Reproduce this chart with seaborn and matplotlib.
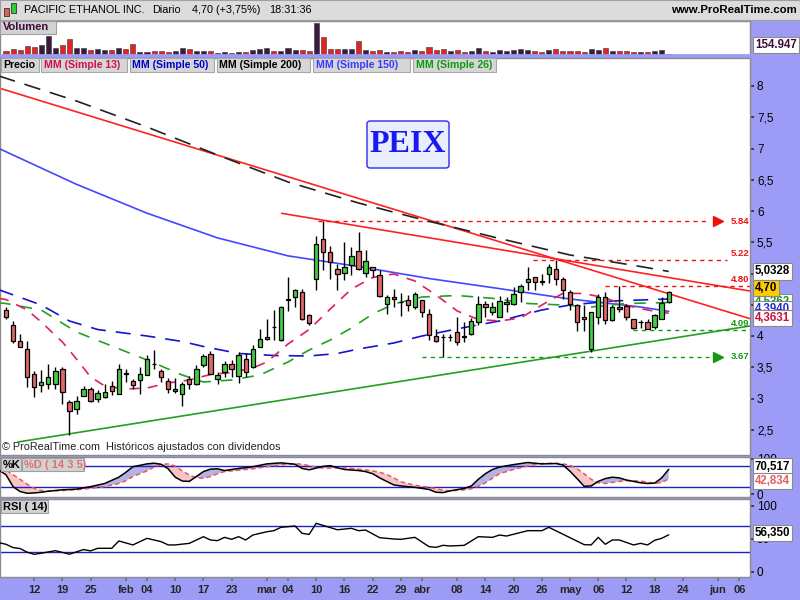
import numpy as np
import matplotlib
matplotlib.use("Agg")
import matplotlib.pyplot as plt
import matplotlib.transforms as mtrans
from matplotlib.patches import Rectangle, FancyBboxPatch
import seaborn as sns

sns.set_theme(style="white")
plt.rcParams['font.family'] = ['Liberation Sans', 'DejaVu Sans']

# ---------------- data ----------------
opens = [4.42, 4.17, 3.92, 3.80, 3.39, 3.21, 3.24, 3.23, 3.48, 2.94,
         2.83, 3.04, 3.15, 3.00, 3.03, 3.20, 3.08, 3.41, 3.28, 3.30,
         3.37, 3.56, 3.44, 3.28, 3.12, 3.08, 3.32, 3.24, 3.53, 3.71,
         3.32, 3.43, 3.56, 3.36, 3.63, 3.50, 3.83, 3.96, 4.15, 3.93,
         4.58, 4.63, 4.70, 4.33, 4.91, 5.55, 5.34, 5.07, 5.01, 5.14,
         5.36, 5.01, 5.10, 4.98, 4.52, 4.62, 4.55, 4.58, 4.47, 4.58,
         4.35, 4.00, 3.99, 3.99, 4.06, 4.00, 4.03, 4.22, 4.51, 4.39,
         4.31, 4.51, 4.51, 4.71, 4.86, 4.94, 4.88, 5.00, 5.07, 4.92,
         4.71, 4.50, 4.31, 3.80, 4.31, 4.63, 4.25, 4.47, 4.48, 4.27,
         4.22, 4.22, 4.14, 4.28, 4.55]
highs = [4.46, 4.24, 4.04, 3.92, 3.44, 3.46, 3.55, 3.50, 3.50, 2.97,
         3.04, 3.20, 3.18, 3.13, 3.23, 3.28, 3.55, 3.48, 3.31, 3.50,
         3.69, 3.77, 3.48, 3.33, 3.33, 3.26, 3.36, 3.53, 3.71, 3.76,
         3.42, 3.60, 3.61, 3.74, 3.73, 3.85, 4.12, 4.27, 4.42, 4.48,
         4.95, 4.75, 4.75, 4.35, 5.60, 5.84, 5.44, 5.16, 5.51, 5.43,
         5.66, 5.38, 5.11, 5.05, 4.65, 4.75, 4.69, 4.65, 4.70, 4.58,
         4.44, 4.11, 4.04, 4.03, 4.31, 4.23, 4.29, 4.64, 4.56, 4.54,
         4.64, 4.63, 4.79, 4.83, 5.11, 4.95, 5.00, 5.15, 5.22, 4.95,
         4.73, 4.52, 4.50, 4.38, 4.68, 4.70, 4.49, 4.80, 4.52, 4.28,
         4.25, 4.28, 4.36, 4.63, 4.725]
lows = [4.28, 3.89, 3.82, 3.18, 3.03, 3.11, 3.15, 3.15, 2.92, 2.42,
        2.75, 3.04, 2.94, 2.94, 3.01, 3.05, 3.08, 3.26, 3.15, 3.08,
        3.37, 3.48, 3.26, 3.09, 3.09, 2.88, 3.15, 3.22, 3.51, 3.39,
        3.24, 3.35, 3.35, 3.25, 3.35, 3.49, 3.83, 3.94, 3.93, 3.92,
        4.40, 4.47, 4.26, 4.18, 4.73, 5.06, 4.91, 4.73, 4.90, 4.98,
        5.06, 4.95, 4.95, 4.62, 4.36, 4.46, 4.32, 4.40, 4.43, 4.31,
        3.94, 3.91, 3.67, 3.92, 3.85, 3.91, 4.02, 4.18, 4.31, 4.33,
        4.30, 4.39, 4.50, 4.54, 4.74, 4.74, 4.82, 4.85, 4.82, 4.60,
        4.42, 4.08, 4.08, 3.75, 4.19, 4.19, 4.24, 4.39, 4.25, 4.11,
        4.13, 4.11, 4.11, 4.27, 4.53]
closes = [4.30, 3.92, 3.82, 3.35, 3.19, 3.26, 3.34, 3.44, 3.11, 2.80,
          2.96, 3.15, 2.96, 3.09, 3.10, 3.12, 3.48, 3.40, 3.21, 3.40,
          3.64, 3.55, 3.35, 3.15, 3.15, 3.24, 3.23, 3.48, 3.68, 3.39,
          3.38, 3.56, 3.47, 3.69, 3.42, 3.80, 3.95, 3.99, 4.14, 4.46,
          4.59, 4.73, 4.27, 4.21, 5.47, 5.34, 5.19, 5.00, 5.10, 5.28,
          5.07, 5.20, 5.06, 4.64, 4.62, 4.59, 4.54, 4.50, 4.68, 4.39,
          4.01, 3.92, 3.98, 3.99, 3.91, 3.99, 4.24, 4.51, 4.46, 4.46,
          4.56, 4.55, 4.67, 4.80, 4.91, 4.87, 4.87, 5.10, 4.91, 4.73,
          4.52, 4.22, 4.27, 4.38, 4.63, 4.26, 4.47, 4.43, 4.30, 4.13,
          4.23, 4.12, 4.34, 4.53, 4.70]
volumes_k = [620, 930, 780, 1400, 1240, 1550, 2950, 1090, 1560, 2480,
             1080, 1100, 770, 940, 790, 760, 1070, 920, 1710, 470,
             480, 610, 630, 460, 620, 1090, 950, 640, 610, 600,
             320, 470, 330, 480, 460, 790, 930, 1110, 630, 620,
             1080, 770, 790, 640, 4980, 2800, 940, 920, 950, 930,
             2170, 780, 620, 770, 470, 480, 640, 470, 790, 610,
             1250, 770, 940, 620, 780, 460, 630, 1090, 610, 480,
             790, 620, 770, 930, 780, 630, 470, 780, 940, 620,
             630, 610, 480, 940, 790, 1100, 620, 640, 610, 470,
             490, 470, 630, 800, 154.947]

ma200_idx = [-1, 10, 20, 30, 40, 50, 60, 70, 80, 90, 94]
ma200_val = [8.16, 7.76, 7.344, 6.896, 6.464, 6.128, 5.835, 5.56, 5.296, 5.112, 5.0328]
ma150_idx = [-1, 10, 20, 30, 40, 50, 60, 70, 80, 90, 94]
ma150_val = [7.00, 6.427, 5.965, 5.57, 5.282, 5.112, 4.92, 4.758, 4.592, 4.464, 4.394]
ma50_idx = [-1, 5, 9, 13, 20, 25, 28, 33, 38, 43, 47, 50, 55, 59, 65, 70, 76, 80, 86, 94]
ma50_val = [4.74, 4.496, 4.24, 4.104, 4.00, 3.912, 3.832, 3.72, 3.688, 3.68, 3.72,
            3.792, 3.888, 4.00, 4.136, 4.24, 4.416, 4.496, 4.56, 4.592]
ma13_idx = [-1, 0, 3, 5, 8, 10, 12, 14, 17, 20, 23, 26, 29, 32, 35, 37, 40, 43, 46,
            49, 52, 55, 58, 61, 64, 67, 70, 73, 76, 79, 82, 85, 88, 91, 94]
ma13_val = [4.60, 4.584, 4.416, 4.224, 3.904, 3.632, 3.344, 3.20, 3.152, 3.168, 3.248,
            3.296, 3.384, 3.416, 3.488, 3.584, 3.872, 4.104, 4.432, 4.752, 4.936, 4.992,
            4.88, 4.656, 4.40, 4.264, 4.24, 4.288, 4.496, 4.683, 4.68, 4.608, 4.488,
            4.416, 4.3631]
ma26_idx = [-1, 0, 5, 10, 15, 20, 25, 28, 32, 36, 40, 43, 46, 49, 52, 55, 59, 64, 69,
            74, 79, 83, 88, 94]
ma26_val = [4.53, 4.52, 4.416, 4.064, 3.84, 3.616, 3.376, 3.264, 3.296, 3.376, 3.584,
            3.776, 3.936, 4.128, 4.352, 4.512, 4.624, 4.648, 4.603, 4.52, 4.496, 4.464,
            4.52, 4.5362]

stoch_idx = [-1, 0, 1, 2, 3, 4, 5, 6, 8, 10, 12, 14, 16, 17, 18, 20, 21, 22, 23, 24,
             25, 26, 27, 28, 29, 30, 31, 32, 33, 35, 37, 39, 41, 42, 43, 44, 45, 46,
             47, 48, 50, 51, 52, 53, 54, 55, 56, 58, 60, 61, 62, 63, 65, 66, 67, 68,
             69, 70, 72, 74, 76, 78, 79, 80, 81, 82, 83, 84, 85, 86, 87, 88, 89, 90,
             91, 92, 93, 94]
stoch_k = [68, 55, 21, 7, 2, 3, 5, 8, 12, 14, 21, 30, 48, 62, 78, 86, 88, 85, 72, 48,
           37, 36, 50, 64, 71, 72, 67, 70, 73, 78, 86, 89, 85, 73, 69, 74, 79, 81,
           75, 70, 67, 64, 58, 46, 36, 26, 23, 19, 13, 5, 4, 9, 16, 23, 42, 58,
           70, 77, 84, 90, 86, 87, 83, 65, 44, 22, 23, 36, 44, 48, 46, 40, 36, 32,
           30, 31, 46, 70.517]
stoch_d = [70, 68, 55, 42, 28, 16, 10, 8, 10, 12, 16, 21, 30, 38, 50, 66, 77, 84, 86, 80,
           66, 54, 46, 45, 50, 58, 64, 66, 68, 72, 78, 83, 87, 85, 81, 76, 74, 74,
           75, 75, 71, 69, 66, 62, 56, 46, 35, 25, 19, 15, 11, 9, 12, 15, 22, 32,
           45, 58, 70, 80, 87, 88, 86, 82, 72, 58, 42, 32, 30, 33, 36, 38, 38, 37,
           34, 30, 33, 42.834]

rsi_idx = [-1, 0, 1, 2, 3, 4, 5, 7, 9, 11, 12, 13, 15, 16, 18, 20, 22, 23, 24, 26, 28,
           29, 30, 31, 32, 33, 34, 35, 37, 38, 39, 41, 42, 43, 44, 45, 47, 49, 50, 51,
           53, 55, 56, 58, 60, 61, 62, 63, 65, 67, 69, 70, 71, 74, 76, 77, 80, 82, 83,
           84, 85, 86, 87, 89, 90, 91, 92, 93, 94]
rsi_val = [44.4, 42, 37, 35.5, 30, 26.8, 28.5, 32.3, 27, 34, 32, 35.9, 35.9, 47, 41, 51,
           46, 41, 41, 43.4, 53.5, 48.5, 47.5, 52.5, 49.5, 53.5, 48.5, 56, 61, 62.6,
           67.7, 69.7, 58.6, 57, 73.7, 70.5, 64, 66.2, 62.6, 63.6, 52, 50, 49.5, 52.5,
           38.4, 37.4, 40.4, 39.4, 40.4, 53.5, 52.5, 56, 54.5, 62.6, 62.6, 67.7, 52,
           41.5, 41, 52.5, 42, 48.5, 48.5, 41, 43.4, 41, 48, 51, 56.35]

tick_pos = [4, 8, 12, 17, 20, 24, 28, 32, 37, 40, 44, 48, 52, 56, 59, 64, 68, 72,
            76, 80, 84, 88, 92, 96, 101, 104]
tick_labels = ['12', '19', '25', 'feb', '04', '10', '17', '23', 'mar', '04', '10',
               '16', '22', '29', 'abr', '08', '14', '20', '26', 'may', '06', '12',
               '18', '24', 'jun', '06']

red_line1_x = [-0.85, 105.5]
red_line1_y = [7.963, 4.278]
red_line2_x = [39.1, 105.5]
red_line2_y = [5.963, 4.72]
green_line_x = [1.7, 105.5]
green_line_y = [2.304, 4.16]

level_vals = [5.84, 5.22, 4.80, 4.09, 3.67]
level_texts = ['5.84', '5.22', '4.80', '4.09', '3.67']
level_start = [44.3, 74.8, 85.0, 89.0, 59.0]
level_end = [99.7, 102.3, 105.6, 105.6, 99.7]
level_colors = ['#ee1111', '#ee1111', '#ee1111', '#119911', '#119911']
level_arrow = [True, False, False, False, True]

price_ticks = [2.5, 3.0, 3.5, 4.0, 4.5, 5.0, 5.5, 6.0, 6.5, 7.0, 7.5, 8.0]
price_tick_hidden = [4.5, 5.0]   # covered by the value boxes in the reference

# ---------------- layout ----------------
W, H = 800, 600
fig = plt.figure(figsize=(8, 6), dpi=100)
fig.patch.set_facecolor('#9c9cf6')

def ax_px(x0, y0, x1, y1):
    return fig.add_axes([x0 / W, 1 - y1 / H, (x1 - x0) / W, (y1 - y0) / H])

def frect(x0, y0, x1, y1, **kw):
    r = Rectangle((x0 / W, 1 - y1 / H), (x1 - x0) / W, (y1 - y0) / H,
                  transform=fig.transFigure, **kw)
    fig.add_artist(r)
    return r

def ftext(x, y, s, **kw):
    return fig.text(x / W, 1 - y / H, s, **kw)

XMIN, XMAX = -0.851, 105.53
n = len(closes)
xs = np.arange(n)
o = np.array(opens); c = np.array(closes); hi = np.array(highs); lo = np.array(lows)
up = c >= o

def style_axes(ax):
    ax.set_facecolor('white')
    for s in ax.spines.values():
        s.set_color('#8c8c8c')
        s.set_linewidth(1)
    ax.set_xlim(XMIN, XMAX)
    ax.tick_params(axis='x', bottom=False, labelbottom=False)
    ax.yaxis.tick_right()
    ax.tick_params(axis='y', right=True, left=False, direction='out', length=3,
                   color='#333333', labelsize=8.5, pad=2, labelcolor='black')
    ax.grid(False)

# title bar
frect(0, 0, 800, 20, facecolor='#dcdcdc', edgecolor='#a0a0a0', lw=0.8)
frect(4, 8, 9, 16, facecolor='#e06060', edgecolor='#333333', lw=0.6)
frect(11, 3, 16, 13, facecolor='#33cc33', edgecolor='#333333', lw=0.6)
ftext(24, 10, 'PACIFIC ETHANOL INC.', fontsize=7.8, va='center', color='black')
ftext(152, 10, 'Diario', fontsize=7.8, va='center', color='black')
ftext(192, 10, '4,70 (+3,75%)', fontsize=7.8, va='center', color='black')
ftext(269, 10, '18:31:36', fontsize=7.8, va='center', color='black')
ftext(797, 10, 'www.ProRealTime.com', fontsize=8.2, fontweight='bold', va='center',
      ha='right', color='black')

# ---------------- volume ----------------
ax_v = ax_px(0, 21, 750, 55)
style_axes(ax_v)
ax_v.set_ylim(0, 5270)
ax_v.set_yticks([])
vcols = ['#3c1a40' if u else '#e52222' for u in up]
vcols[-1] = '#222222'
ax_v.bar(xs, volumes_k, width=0.72, color=vcols, edgecolor='#333333', linewidth=0.4)
ax_v.spines['bottom'].set_color('#9c9cf6')
ax_v.spines['bottom'].set_linewidth(2)

# ---------------- price ----------------
ax_p = ax_px(0, 58, 750, 455)
style_axes(ax_p)
ax_p.set_ylim(2.096, 8.448)
ax_p.set_yticks(price_ticks)
ax_p.set_yticklabels(['' if v in price_tick_hidden else ('%g' % v).replace('.', ',')
                      for v in price_ticks])

# trend lines
ax_p.plot(red_line1_x, red_line1_y, color='#ff2222', lw=1.2, zorder=2)
ax_p.plot(red_line2_x, red_line2_y, color='#ff2222', lw=1.2, zorder=2)
ax_p.plot(green_line_x, green_line_y, color='#22a022', lw=1.2, zorder=2)

# moving averages
sns.lineplot(x=ma150_idx, y=ma150_val, ax=ax_p, color='#4646ff', linewidth=1.2, zorder=3)
sns.lineplot(x=ma200_idx, y=ma200_val, ax=ax_p, color='#222222', linewidth=1.2,
             linestyle=(0, (10, 6)), zorder=3)
sns.lineplot(x=ma50_idx, y=ma50_val, ax=ax_p, color='#1414d0', linewidth=1.2,
             linestyle=(0, (9, 6)), zorder=3)
sns.lineplot(x=ma26_idx, y=ma26_val, ax=ax_p, color='#22a022', linewidth=1.2,
             linestyle=(0, (7, 6)), zorder=3)
sns.lineplot(x=ma13_idx, y=ma13_val, ax=ax_p, color='#e0205a', linewidth=1.2,
             linestyle=(0, (6, 5)), zorder=3)

# horizontal levels
for v, t, x0, x1, col, arr in zip(level_vals, level_texts, level_start, level_end,
                                  level_colors, level_arrow):
    ax_p.plot([x0, x1], [v, v], color=col, lw=1.0, linestyle=(0, (3, 3)), zorder=2)
    if arr:
        ax_p.plot([101.0], [v], marker='>', markersize=7, color=col, zorder=4)
        ax_p.text(102.8, v, t, color=col, fontsize=6.8, fontweight='bold',
                  va='center', ha='left', zorder=5)
    else:
        ax_p.text(102.8, v + 0.03, t, color=col, fontsize=6.8, fontweight='bold',
                  va='bottom', ha='left', zorder=5)

# candles
ax_p.vlines(xs, lo, hi, color='black', lw=1.0, zorder=5)
bcol = ['#44cc44' if u else '#e06868' for u in up]
ax_p.bar(xs, c - o, bottom=o, width=0.62, color=bcol, edgecolor='black',
         linewidth=0.9, zorder=6)

# PEIX box
fig.add_artist(FancyBboxPatch((367 / W, 1 - 168 / H), 82 / W, 47 / H,
                              boxstyle='round,pad=0,rounding_size=0.004',
                              transform=fig.transFigure, facecolor='#e8eeff',
                              edgecolor='#2a2ae6', lw=1.0))
ftext(408, 145, 'PEIX', fontsize=23, fontweight='bold',
      family=['Liberation Serif', 'DejaVu Serif'], color='#1a1aee',
      ha='center', va='center')

# price panel label row
labs = [('Precio', 1, 39, 'black'), ('MM (Simple 13)', 41, 127, '#d0104a'),
        ('MM (Simple 50)', 130, 214, '#0000cc'), ('MM (Simple 200)', 217, 310, 'black'),
        ('MM (Simple 150)', 313, 410, '#3a3aff'), ('MM (Simple 26)', 413, 496, '#109910')]
for s, x0, x1, col in labs:
    frect(x0, 58, x1, 72, facecolor='#d6d6d6', edgecolor='#a8a8a8', lw=0.8)
    ftext(x0 + 2.5, 65.5, s, fontsize=7.6, fontweight='bold', color=col, va='center')

frect(0, 21, 56, 34, facecolor='#d2d2d2', edgecolor='#a0a0a0', lw=0.8)
ftext(3, 27.5, 'Volumen', fontsize=8, fontweight='bold', color='#3b0d3b', va='center')

ftext(2, 447, '\u00a9 ProRealTime.com  Hist\u00f3ricos ajustados con dividendos',
      fontsize=7.8, color='#222222', va='center')

# ---------------- stochastic ----------------
ax_s = ax_px(0, 457, 750, 497)
style_axes(ax_s)
ax_s.set_ylim(-8.57, 105.7)
ax_s.set_yticks([0, 100])
ax_s.set_yticklabels(['0', '100'])
k = np.array(stoch_k, dtype=float); d = np.array(stoch_d, dtype=float)
ax_s.fill_between(stoch_idx, k, d, where=k >= d, interpolate=True,
                  color='#b4b4e2', lw=0, zorder=1)
ax_s.fill_between(stoch_idx, k, d, where=k < d, interpolate=True,
                  color='#f6c6c6', lw=0, zorder=1)
ax_s.axhline(80, color='#2020c0', lw=1, zorder=2)
ax_s.axhline(20, color='#2020c0', lw=1, zorder=2)
ax_s.plot(stoch_idx, d, color='#e85a5a', lw=1.1, linestyle=(0, (3, 2)), zorder=3)
sns.lineplot(x=stoch_idx, y=stoch_k, ax=ax_s, color='black', linewidth=1.1, zorder=4)
ax_s.set_xlim(XMIN, XMAX)
frect(1, 458, 21, 471, facecolor='#d2d2d2', edgecolor='#a0a0a0', lw=0.8)
ftext(3, 464.5, '%K', fontsize=8, fontweight='bold', color='black', va='center')
frect(22, 458, 84, 471, facecolor='#d2d2d2', edgecolor='#a0a0a0', lw=0.8)
ftext(24, 464.5, '%D ( 14 3 5)', fontsize=8, fontweight='bold', color='#e07070',
      va='center')

# ---------------- RSI ----------------
ax_r = ax_px(0, 499, 750, 577)
style_axes(ax_r)
ax_r.set_ylim(-7.58, 110.6)
ax_r.set_yticks([0, 50, 100])
ax_r.set_yticklabels(['0', '50', '100'])
ax_r.axhline(70, color='#2020c0', lw=1, zorder=2)
ax_r.axhline(30, color='#2020c0', lw=1, zorder=2)
sns.lineplot(x=rsi_idx, y=rsi_val, ax=ax_r, color='black', linewidth=1.0, zorder=3)
ax_r.set_xlim(XMIN, XMAX)
ax_r.set_xticks(tick_pos)
ax_r.set_xticklabels(tick_labels)
ax_r.tick_params(axis='x', bottom=True, labelbottom=True, direction='out', length=3,
                 color='#707070', pad=3, labelsize=8)
for lab in ax_r.get_xticklabels():
    lab.set_fontweight('bold')
frect(1, 500, 48, 513, facecolor='#d2d2d2', edgecolor='#a0a0a0', lw=0.8)
ftext(3, 506.5, 'RSI ( 14)', fontsize=8, fontweight='bold', color='black', va='center')

for a in (ax_v, ax_p, ax_s, ax_r):
    a.set_xlabel('')
    a.set_ylabel('')

# ---------------- value boxes on the right axis ----------------
def vbox(ax, val, text, col, fc='white', dy=0.0):
    tr = mtrans.blended_transform_factory(ax.transAxes, ax.transData)
    ax.annotate(text, xy=(1.0, val), xycoords=tr, xytext=(3.5, dy),
                textcoords='offset points', fontsize=8.3, fontweight='bold',
                color=col, va='center', ha='left', annotation_clip=False,
                bbox=dict(boxstyle='square,pad=0.18', fc=fc, ec='#8a8a8a', lw=0.8),
                zorder=20)

vbox(ax_v, volumes_k[-1] + 1400, '154.947', '#3b0d3b')
vbox(ax_p, ma200_val[-1], '5,0328', 'black')
vbox(ax_p, ma26_val[-1], '4,5362', '#109910')
vbox(ax_p, ma150_val[-1], '4,3940', '#2a2acc', dy=1.5)
vbox(ax_p, ma13_val[-1], '4,3631', '#c8103e', dy=-3.6)
vbox(ax_p, closes[-1], '4,70', 'black', fc='#ffcc00', dy=2.8)
vbox(ax_s, stoch_k[-1], '70,517', 'black', dy=2.0)
vbox(ax_s, stoch_d[-1], '42,834', '#e06060', dy=-1.5)
vbox(ax_r, rsi_val[-1], '56,350', 'black', dy=1.0)

fig.savefig('out.png', dpi=100, facecolor=fig.get_facecolor())
